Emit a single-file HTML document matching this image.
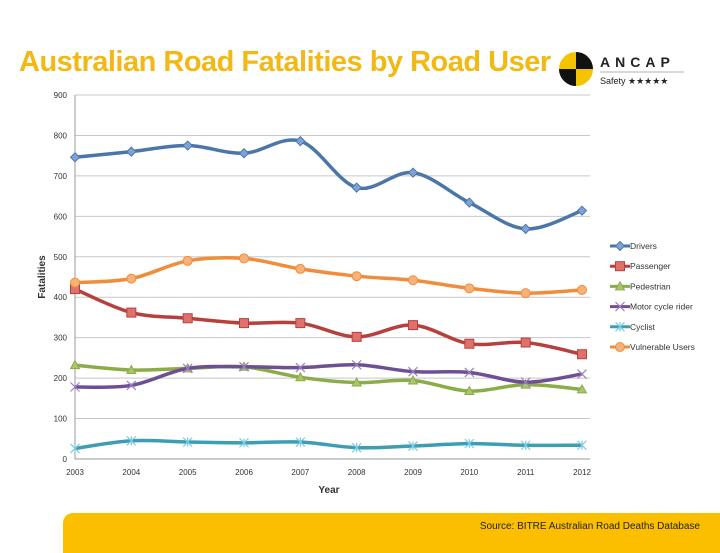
<!DOCTYPE html>
<html><head><meta charset="utf-8"><style>
body{margin:0;width:720px;height:540px;background:#fff;overflow:hidden;font-family:"Liberation Sans",sans-serif;position:relative}
#title{position:absolute;left:19px;top:46px;font-size:29px;font-weight:bold;color:#f2b814;letter-spacing:-0.5px;white-space:nowrap}
#bar{position:absolute;left:63px;top:513px;width:670px;height:40px;background:#fbbf00;border-top-left-radius:10px}
#src{position:absolute;right:20px;top:521px;font-size:10px;color:#222}
</style></head><body>
<div id="title">Australian Road Fatalities by Road User</div>
<svg style="position:absolute;left:0;top:0" width="720" height="540" id="svg">
<g>
<circle cx="576" cy="69" r="17" fill="#f5c400"/>
<path d="M576 52 A17 17 0 0 1 593 69 L576 69Z" fill="#111"/>
<path d="M576 86 A17 17 0 0 1 559 69 L576 69Z" fill="#111"/>
<text x="600" y="67" font-size="14" font-weight="bold" letter-spacing="5" fill="#222">ANCAP</text>
<line x1="600" y1="72" x2="684" y2="72" stroke="#999" stroke-width="0.8"/>
<text x="600" y="84" font-size="9" fill="#222">Safety ★★★★★</text>
</g>
</svg>
<div id="bar"></div>
<div id="src">Source: BITRE Australian Road Deaths Database</div>
<script>
const years=["2003","2004","2005","2006","2007","2008","2009","2010","2011","2012"];
const yTicks=[0,100,200,300,400,500,600,700,800,900];
const seriesNames=["Drivers","Passenger","Pedestrian","Motor cycle rider","Cyclist","Vulnerable Users"];
const drivers=[746,760,775,756,786,671,708,634,569,614];
const passenger=[420,362,348,336,336,302,331,285,288,259];
const pedestrian=[232,220,224,228,202,189,194,168,184,172];
const motorcycle=[178,182,224,228,226,233,216,214,190,210];
const cyclist=[26,45,42,40,42,28,32,38,34,34];
const vulnerable=[436,446,490,496,470,452,442,422,410,418];
const colors=["#4a76aa","#b8403c","#8bac48","#6e4f93","#3d9db3","#f08c3a"];
const markers=["diamond","square","triangle","x","star","circle"];
const all=[drivers,passenger,pedestrian,motorcycle,cyclist,vulnerable];
const svg=document.getElementById('svg');const NS="http://www.w3.org/2000/svg";
const X0=75,X1=582,Y0=459,Y1=95;
const xs=i=>X0+(X1-X0)*i/(years.length-1);
const ys=v=>Y0-(Y0-Y1)*v/900;
function mk(t,a,p){const e=document.createElementNS(NS,t);for(const k in a)e.setAttribute(k,a[k]);(p||svg).appendChild(e);return e;}
yTicks.forEach(t=>{const y=ys(t);
 if(t>0){const l=mk('line',{x1:X0,x2:X1+8,y1:y,y2:y,stroke:'#c8c8c8','stroke-width':1});}
 const tx=mk('text',{x:67,y:y+3,'font-size':8,'text-anchor':'end',fill:'#333'});tx.textContent=t;
 });
const ax=mk('path',{d:`M${X0} ${Y1} V${Y0} H${X1+8}`,stroke:'#999',fill:'none'});

years.forEach((yr,i)=>{const t=mk('text',{x:xs(i),y:Y0+16,'font-size':8,'text-anchor':'middle',fill:'#333'});t.textContent=yr;
 });
let t=mk('text',{x:329,y:493,'font-size':10,'font-weight':'bold','text-anchor':'middle',fill:'#333'});t.textContent='Year';

t=mk('text',{x:0,y:0,'font-size':10,'font-weight':'bold','text-anchor':'middle',fill:'#333',transform:'translate(45,277) rotate(-90)'});t.textContent='Fatalities';

function marker(type,x,y,c,g){
 const s=4.5;
 if(type=='diamond')mk('path',{d:`M${x} ${y-s}L${x+s} ${y}L${x} ${y+s}L${x-s} ${y}Z`,fill:'#7fa3d6',stroke:c},g);
 else if(type=='square')mk('rect',{x:x-s,y:y-s,width:2*s,height:2*s,fill:'#e0706c',stroke:c},g);
 else if(type=='triangle')mk('path',{d:`M${x} ${y-s}L${x+s} ${y+s-1}L${x-s} ${y+s-1}Z`,fill:'#a8c66a',stroke:c},g);
 else if(type=='x')mk('path',{d:`M${x-s} ${y-s}L${x+s} ${y+s}M${x+s} ${y-s}L${x-s} ${y+s}`,stroke:'#9a82c0','stroke-width':1.2},g);
 else if(type=='star')mk('path',{d:`M${x-s} ${y-s}L${x+s} ${y+s}M${x+s} ${y-s}L${x-s} ${y+s}M${x} ${y-s}V${y+s}`,stroke:'#7ccbe0','stroke-width':1.2},g);
 else mk('circle',{cx:x,cy:y,r:s,fill:'#f7b27a',stroke:c},g);
}
function smooth(pts){let d=`M${pts[0][0]} ${pts[0][1]}`;
 for(let i=0;i<pts.length-1;i++){const p0=pts[i-1]||pts[i],p1=pts[i],p2=pts[i+1],p3=pts[i+2]||p2;
  d+=`C${p1[0]+(p2[0]-p0[0])/6} ${p1[1]+(p2[1]-p0[1])/6} ${p2[0]-(p3[0]-p1[0])/6} ${p2[1]-(p3[1]-p1[1])/6} ${p2[0]} ${p2[1]}`;}
 return d;}
all.forEach((arr,si)=>{const g=mk('g',{});
 
 
 const pts=arr.map((v,i)=>[xs(i),ys(v)]);
 mk('path',{d:smooth(pts),stroke:colors[si],'stroke-width':3.5,fill:'none'},g);
 pts.forEach(p=>marker(markers[si],p[0],p[1],colors[si],g));
 const ly=246+si*20.2;const lg=mk('g',{});
 
 mk('line',{x1:610,x2:630,y1:ly,y2:ly,stroke:colors[si],'stroke-width':3},lg);
 marker(markers[si],620,ly,colors[si],lg);
 const tt=mk('text',{x:630,y:ly+3,'font-size':8.5,fill:'#333'},lg);tt.textContent=seriesNames[si];
});
</script>
</body></html>
